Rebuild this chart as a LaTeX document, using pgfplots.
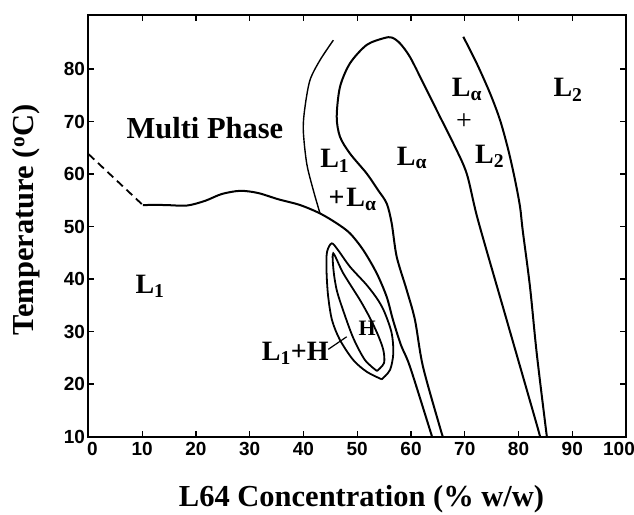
\documentclass[border=0pt]{standalone}
\usepackage{fontspec}
\setmainfont{Liberation Serif}
\newfontfamily\ticksf{Liberation Sans}
\usepackage{pgfplots}
\pgfplotsset{compat=1.18}
\newcommand{\reg}{\bfseries\fontsize{28}{30}\selectfont}
\begin{document}
\begin{tikzpicture}
\begin{axis}[name=ax, width=537.5pt, height=421.5pt, scale only axis,
  xmin=0, xmax=100, ymin=10, ymax=90.3,
  xtick={0,10,...,100}, ytick={10,20,...,80},
  xticklabels={\hspace*{8pt}0,10,20,30,40,50,60,70,80,90,\hspace*{-14pt}100},
  tick align=inside, major tick length=6pt,
  tick style={line width=1.2pt, black},
  axis line style={line width=2pt},
  /pgf/number format/assume math mode=true,
  tick label style={font=\ticksf\bfseries\fontsize{19}{19}\selectfont},
  xticklabel style={yshift=-2pt},
  xlabel={L64 Concentration (\% w/w)},
  ylabel={Temperature (\textsuperscript{o}C)},
  label style={font=\bfseries\fontsize{30.5}{32}\selectfont},
  xlabel style={at={(axis description cs:0.508,-0.166)}, anchor=base},
  ylabel style={at={(axis description cs:-0.1024,0.514)}, anchor=base},
  every node/.style={inner sep=0pt},
]
% dashed extension
\addplot[black, line width=1.8pt, dash pattern=on 8pt off 5pt] coordinates {(0,63.8) (10.1,54.1)};
% L1 boundary
\addplot[black, line width=2pt, smooth, tension=0.5] coordinates {
(10.1,54.1) (14.2,54.1) (18.3,54.0) (21.7,54.9) (24.8,56.2) (28.2,56.8) (31.5,56.4)
(35.3,55.2) (39.35,54.1) (43.07,52.5) (46.2,50.6) (48.65,48.7) (51.13,45.5)
(53.62,41.1) (55.48,36.6) (56.65,32.2) (58.14,27.4) (59.81,23.3) (63.53,11.24) (63.9,10)};
% L1 + Lalpha left boundary (thin)
\addplot[black, line width=1.4pt, smooth, tension=0.5] coordinates {
(45.55,85.5) (43.07,81.7) (41.21,77.9) (40.28,72.8) (39.96,68.4) (40.6,62.0) (41.82,56.95) (43.07,52.5)};
% Lalpha loop
\addplot[black, line width=2pt, smooth, tension=0.5] coordinates {
(65.95,10) (65.53,11.24) (62.23,23.3) (60.74,32.2) (59.2,37.9) (57.34,44.25) (56.41,50.6)
(55.48,54.4) (53.86,56.95) (51.76,60.1) (48.65,63.9) (46.79,67.1) (46.18,70.9) (46.79,76.6)
(48.65,81.1) (51.76,84.6) (55.0,85.9) (56.45,86.0) (57.95,84.9) (59.81,82.3) (62.29,77.3)
(65.4,70.9) (67.87,65.85) (70.36,60.1) (72.47,51.2) (77.8,32.2) (83.68,11.24) (83.9,10)};
% L2 boundary
\addplot[black, line width=2pt, smooth, tension=0.5] coordinates {
(69.73,86.15) (72.22,81.1) (74.7,75.4) (76.56,70.3) (78.1,64.6) (79.35,58.9) (80.28,53.8)
(80.78,49.3) (82.14,38.5) (83.39,25.85) (85.12,11.24) (85.3,10)};
% outer H ellipse
\addplot[black, line width=1.8pt, smooth, tension=0.5] coordinates {
(54.55,20.9) (56.09,22.67) (56.71,25.85) (56.41,29.66) (55.16,33.47) (53.86,36.0) (51.76,38.86)
(48.65,42.34) (46.42,45.52) (45.25,46.8) (44.37,45.14) (44.28,41.71) (44.56,36.95) (45.3,32.19)
(46.79,28.38) (49.26,24.57) (51.76,22.34) (54.55,20.9)};
% inner H ellipse
\addplot[black, line width=1.8pt, smooth, tension=0.5] coordinates {
(53.67,22.48) (54.98,24.0) (54.85,26.48) (53.86,29.33) (52.37,32.57) (50.51,36.0) (47.4,41.09)
(45.54,44.9) (45.58,41.71) (46.18,37.9) (47.35,34.1) (49.26,28.76) (51.44,24.57) (53.67,22.48)};
% leader line
\addplot[black, line width=1.2pt] coordinates {(44.61,26.61) (48.04,29.0)};
% labels
\node[anchor=base west, font=\bfseries\fontsize{30.5}{32}\selectfont] at (axis cs:6.42,66.8) {Multi Phase};
\node[anchor=base west, font=\reg] at (axis cs:8.09,37.33) {L\textsubscript{1}};
\node[anchor=base west, font=\reg] at (axis cs:42.46,61.2) {L\textsubscript{1}};
\node[anchor=base west, font=\reg] at (axis cs:44.0,53.77) {+\kern2pt L\textsubscript{α}};
\node[anchor=base west, font=\reg] at (axis cs:56.71,61.71) {L\textsubscript{α}};
\node[anchor=base west, font=\reg] at (axis cs:66.94,74.72) {L\textsubscript{α}};
\node[anchor=center, font=\fontsize{28}{30}\selectfont] at (axis cs:69.86,69.96) {+};
\node[anchor=base west, font=\reg] at (axis cs:71.29,62.04) {L\textsubscript{2}};
\node[anchor=base west, font=\reg] at (axis cs:85.86,74.72) {L\textsubscript{2}};
\node[anchor=base west, font=\bfseries\fontsize{22}{23}\selectfont] at (axis cs:49.58,29.33) {H};
\node[anchor=base west, font=\reg] at (axis cs:31.6,24.57) {L\textsubscript{1}+H};
\end{axis}
\pgfresetboundingbox
\path[use as bounding box] ([xshift=-88.5pt,yshift=-77.5pt]ax.south west) rectangle ([xshift=8pt,yshift=15pt]ax.north east);
\end{tikzpicture}
\end{document}
